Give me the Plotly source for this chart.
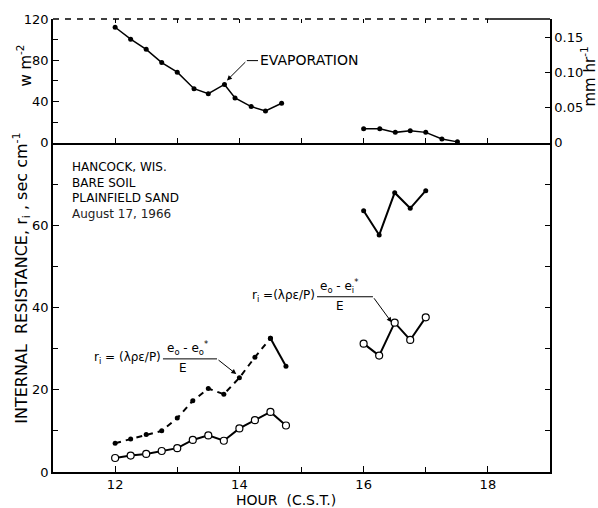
import plotly.graph_objects as go

# ---------------- data ----------------
evap_am_hours = [12.0, 12.25, 12.5, 12.75, 13.0, 13.27, 13.5, 13.76, 13.93, 14.19, 14.42, 14.68]
evap_am_wm2 = [112, 100.5, 90.6, 77.8, 68.5, 52.5, 47.7, 56.6, 43.5, 35.2, 31.0, 38.4]
evap_pm_hours = [16.0, 16.26, 16.51, 16.75, 17.0, 17.26, 17.51]
evap_pm_wm2 = [13.8, 13.8, 10.2, 11.8, 10.2, 3.8, 1.0]

ri_am_hours = [12.0, 12.25, 12.5, 12.75, 13.0, 13.25, 13.5, 13.75, 14.0, 14.25, 14.5, 14.75]
ri_star_am = [7.0, 8.0, 9.1, 10.0, 13.1, 17.3, 20.3, 18.9, 22.9, 27.9, 32.5, 25.7]
ri_sat_am = [3.4, 4.0, 4.4, 5.1, 5.8, 7.8, 8.9, 7.6, 10.6, 12.6, 14.6, 11.3]
ri_pm_hours = [16.0, 16.25, 16.5, 16.75, 17.0]
ri_star_pm = [63.5, 57.6, 67.9, 64.1, 68.4]
ri_sat_pm = [31.2, 28.3, 36.3, 32.1, 37.6]

x_tick_labels = ["12", "14", "16", "18"]
site_lines = ["HANCOCK, WIS.", "BARE SOIL", "PLAINFIELD SAND", "August 17, 1966"]
wm2_per_mmhr = 2.45e6 / 3600.0

FONT = "DejaVu Sans"
BLACK = "black"

fig = go.Figure()

# top panel: evaporation
for hx, vy in ((evap_am_hours, evap_am_wm2), (evap_pm_hours, evap_pm_wm2)):
    fig.add_trace(go.Scatter(x=hx, y=vy, xaxis="x2", yaxis="y2", mode="lines+markers",
                             line=dict(color=BLACK, width=1.5),
                             marker=dict(color=BLACK, size=5), showlegend=False, hoverinfo="skip"))

# bottom panel: filled dots (dashed in the morning)
fig.add_trace(go.Scatter(x=ri_am_hours[:-1], y=ri_star_am[:-1], mode="lines+markers",
                         line=dict(color=BLACK, width=2, dash="6px,5px"),
                         marker=dict(color=BLACK, size=5), showlegend=False, hoverinfo="skip"))
fig.add_trace(go.Scatter(x=ri_am_hours[-2:], y=ri_star_am[-2:], mode="lines+markers",
                         line=dict(color=BLACK, width=2),
                         marker=dict(color=BLACK, size=5), showlegend=False, hoverinfo="skip"))
fig.add_trace(go.Scatter(x=ri_pm_hours, y=ri_star_pm, mode="lines+markers",
                         line=dict(color=BLACK, width=2),
                         marker=dict(color=BLACK, size=5), showlegend=False, hoverinfo="skip"))
# open circles
for hx, vy in ((ri_am_hours, ri_sat_am), (ri_pm_hours, ri_sat_pm)):
    fig.add_trace(go.Scatter(x=hx, y=vy, mode="lines+markers",
                             line=dict(color=BLACK, width=2),
                             marker=dict(color="white", size=7, line=dict(color=BLACK, width=1.2)),
                             showlegend=False, hoverinfo="skip"))

# invisible helpers so extra axes are drawn
fig.add_trace(go.Scatter(x=[11], y=[0], xaxis="x", yaxis="y4", mode="markers",
                         marker=dict(opacity=0), showlegend=False, hoverinfo="skip"))
fig.add_trace(go.Scatter(x=[11], y=[0], xaxis="x2", yaxis="y3", mode="markers",
                         marker=dict(opacity=0), showlegend=False, hoverinfo="skip"))
fig.add_trace(go.Scatter(x=[11], y=[0], xaxis="x3", yaxis="y2", mode="markers",
                         marker=dict(opacity=0), showlegend=False, hoverinfo="skip"))

split = 332 / 457
tickfont = dict(family=FONT, size=13, color=BLACK)

fig.update_layout(
    width=598, height=508,
    margin=dict(l=53, r=48, t=15, b=36),
    paper_bgcolor="white", plot_bgcolor="white",
    font=dict(family=FONT, color=BLACK),
    xaxis=dict(domain=[0, 1], range=[11, 19], anchor="y",
               tickvals=[12, 14, 16, 18], ticktext=x_tick_labels,
               ticks="inside", ticklen=6, tickcolor=BLACK,
               minor=dict(tickvals=[13, 15, 17], ticks="inside", ticklen=5, tickcolor=BLACK),
               showline=True, linecolor=BLACK, linewidth=1.5, showgrid=False, zeroline=False,
               tickfont=tickfont),
    yaxis=dict(domain=[0, split], range=[0, 80], anchor="x",
               tickvals=[0, 20, 40, 60], ticks="inside", ticklen=6, tickcolor=BLACK,
               minor=dict(tickvals=[10, 30, 50, 70], ticks="inside", ticklen=5, tickcolor=BLACK),
               showline=True, linecolor=BLACK, linewidth=1.5, showgrid=False, zeroline=False,
               tickfont=tickfont),
    yaxis4=dict(overlaying="y", side="right", range=[0, 80], anchor="x",
                tickvals=[10, 20, 30, 40, 50, 60, 70], ticks="inside", ticklen=5, tickcolor=BLACK,
                showticklabels=False, showline=True, linecolor=BLACK, linewidth=1.5,
                showgrid=False, zeroline=False),
    xaxis2=dict(domain=[0, 1], range=[11, 19], anchor="y2", matches="x",
                tickvals=[12, 13, 14, 15, 16, 17, 18], ticks="inside", ticklen=5, tickcolor=BLACK,
                showticklabels=False, showline=True, linecolor=BLACK, linewidth=1.5,
                showgrid=False, zeroline=False),
    xaxis3=dict(overlaying="x2", side="top", range=[11, 19], anchor="y2",
                tickvals=[12, 13, 14, 15, 16, 17, 18], ticks="inside", ticklen=4, tickcolor=BLACK,
                showticklabels=False, showline=False, showgrid=False, zeroline=False),
    yaxis2=dict(domain=[split, 1], range=[0, 120], anchor="x2",
                tickvals=[0, 40, 80, 120], ticks="inside", ticklen=6, tickcolor=BLACK,
                minor=dict(tickvals=[20, 60, 100], ticks="inside", ticklen=5, tickcolor=BLACK),
                showline=True, linecolor=BLACK, linewidth=1.5, showgrid=False, zeroline=False,
                tickfont=tickfont),
    yaxis3=dict(overlaying="y2", side="right", range=[0, 120 / wm2_per_mmhr], anchor="x2",
                tickvals=[0, 0.05, 0.10, 0.15], ticktext=["0", "0.05", "0.10", "0.15"],
                ticks="inside", ticklen=5, tickcolor=BLACK,
                showline=True, linecolor=BLACK, linewidth=1.5, showgrid=False, zeroline=False,
                tickfont=tickfont),
)

# dashed top border of the upper panel
fig.add_shape(type="line", xref="paper", yref="paper", x0=0, x1=0.879, y0=1, y1=1,
              line=dict(color=BLACK, width=1.5, dash="6px,6px"))
fig.add_shape(type="line", xref="paper", yref="paper", x0=0.879, x1=1, y0=1, y1=1,
              line=dict(color=BLACK, width=1.5))

ann = []
# axis titles
ann.append(dict(text="INTERNAL  RESISTANCE, r<sub>i</sub> , sec cm<sup>-1</sup>", xref="paper", yref="paper",
                x=(22 - 53) / 497, y=(472 - 277) / 457, xanchor="center", yanchor="middle",
                textangle=-90, showarrow=False,
                font=dict(family=FONT, size=16, color=BLACK)))
ann.append(dict(text="w m<sup>-2</sup>", xref="paper", yref="paper",
                x=(24 - 53) / 497, y=(472 - 62) / 457, xanchor="center", yanchor="middle",
                textangle=-90, showarrow=False,
                font=dict(family=FONT, size=15, color=BLACK)))
ann.append(dict(text="mm hr<sup>-1</sup>", xref="paper", yref="paper",
                x=(589 - 53) / 497, y=(472 - 73) / 457, xanchor="center", yanchor="middle",
                textangle=-90, showarrow=False,
                font=dict(family=FONT, size=15, color=BLACK)))
ann.append(dict(text="HOUR  (C.S.T.)", xref="paper", yref="paper",
                x=(286 - 53) / 497, y=(472 - 500) / 457, xanchor="center", yanchor="middle",
                showarrow=False, font=dict(family=FONT, size=14, color=BLACK)))

# site text block (one multi-line text)
site_text = "<br>".join(site_lines[:3]) + "<br><span style='color:#222'>" + site_lines[3] + "</span>"
ann.append(dict(text=site_text, x=11.27, y=(472 - 156) / 4.146, xref="x", yref="y",
                xanchor="left", yanchor="top", align="left", showarrow=False,
                font=dict(family=FONT, size=12, color=BLACK)))

# evaporation label
ann.append(dict(text="EVAPORATION", x=14.30, y=80.6, xref="x2", yref="y2", xanchor="left",
                yanchor="middle", showarrow=False, font=dict(family=FONT, size=14, color=BLACK)))
fig.add_shape(type="line", xref="x2", yref="y2", x0=14.12, x1=14.30, y0=79.7, y1=79.7,
              line=dict(color=BLACK, width=1))
ann.append(dict(text="", x=13.80, y=60.5, ax=14.12, ay=79.7, xref="x2", yref="y2",
                axref="x2", ayref="y2", showarrow=True, arrowhead=2, arrowsize=1, arrowwidth=1,
                arrowcolor=BLACK))

# formula 1 (lower)
ffont = dict(family=FONT, size=12, color=BLACK)
ann.append(dict(text="r<sub>i</sub> = (λρε/P)", x=12.77, y=27.6, xref="x", yref="y",
                xanchor="right", yanchor="middle", showarrow=False, font=ffont))
fig.add_shape(type="line", xref="x", yref="y", x0=12.77, x1=13.64, y0=27.5, y1=27.5,
              line=dict(color=BLACK, width=1))
ann.append(dict(text="e<sub>o</sub> - e<sub>o</sub><sup>*</sup>", x=13.16, y=27.5, xref="x", yref="y",
                xanchor="center", yanchor="bottom", showarrow=False, font=ffont))
ann.append(dict(text="E", x=13.09, y=27.5, xref="x", yref="y", xanchor="center", yanchor="top",
                showarrow=False, font=ffont))
ann.append(dict(text="", x=13.95, y=23.8, ax=13.64, ay=27.5, xref="x", yref="y",
                axref="x", ayref="y", showarrow=True, arrowhead=2, arrowsize=1, arrowwidth=1,
                arrowcolor=BLACK))

# formula 2 (upper)
ann.append(dict(text="r<sub>i</sub> =(λρε/P)", x=15.25, y=42.8, xref="x", yref="y",
                xanchor="right", yanchor="middle", showarrow=False, font=ffont))
fig.add_shape(type="line", xref="x", yref="y", x0=15.25, x1=16.15, y0=42.6, y1=42.6,
              line=dict(color=BLACK, width=1))
ann.append(dict(text="e<sub>o</sub> - e<sub>i</sub><sup>*</sup>", x=15.60, y=42.6, xref="x", yref="y",
                xanchor="center", yanchor="bottom", showarrow=False, font=ffont))
ann.append(dict(text="E", x=15.62, y=42.6, xref="x", yref="y", xanchor="center", yanchor="top",
                showarrow=False, font=ffont))
ann.append(dict(text="", x=16.45, y=36.4, ax=16.15, ay=42.6, xref="x", yref="y",
                axref="x", ayref="y", showarrow=True, arrowhead=2, arrowsize=1, arrowwidth=1,
                arrowcolor=BLACK))

fig.update_layout(annotations=ann)
fig.write_html("out.html")
